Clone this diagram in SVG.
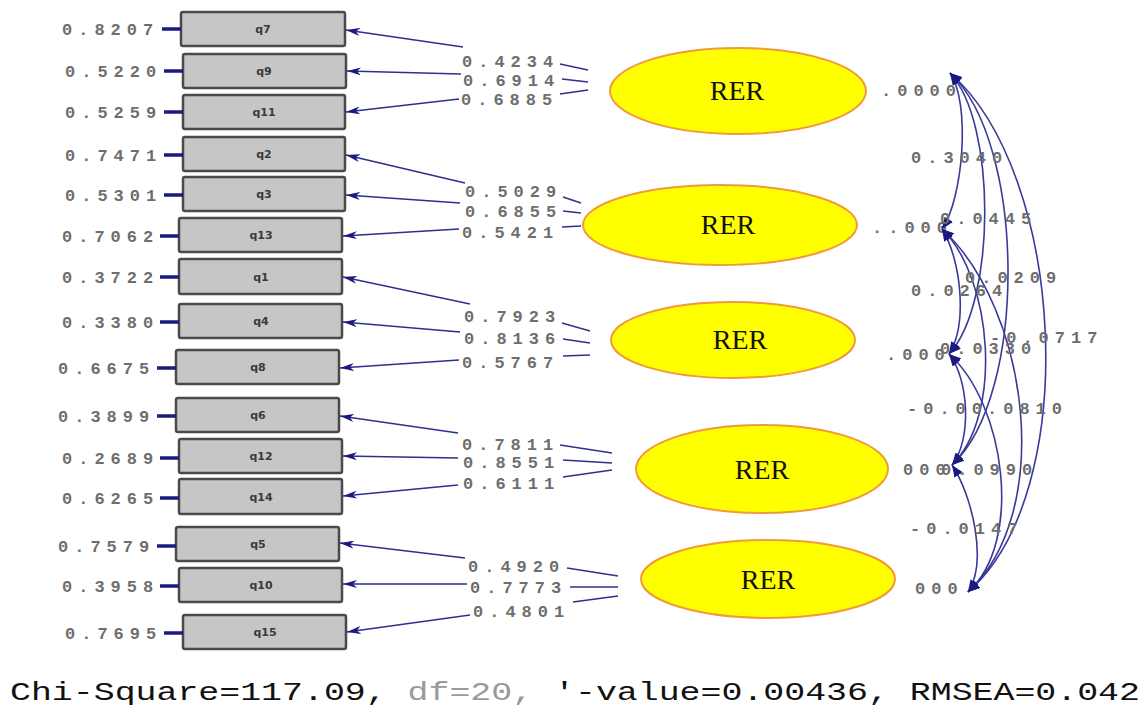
<svg xmlns="http://www.w3.org/2000/svg" width="1145" height="710" viewBox="0 0 1145 710">
  <style>
    .box { fill: #c6c6c6; stroke: #4a4a4a; stroke-width: 2.5; }
    .bl { font-family: "DejaVu Sans", sans-serif; font-size: 11px; font-weight: bold; fill: #3a3a3a; text-anchor: middle; }
    .num { font-family: "Liberation Mono", monospace; font-size: 17px; font-weight: bold; fill: #6e6e6e; letter-spacing: 6px; }
    .lat { fill: #ffff00; stroke: #f09a3a; stroke-width: 2; }
    .latl { font-family: "Liberation Serif", serif; font-size: 28px; fill: #111; text-anchor: middle; }
    .ln { fill: none; stroke: #2f2f8f; stroke-width: 1.5; }
    .err { stroke: #1a1a80; stroke-width: 3.5; }
    .cov { fill: none; stroke: #3a3a9a; stroke-width: 1.6; }
  </style>
  <defs>
    <marker id="ah" viewBox="0 0 14 8" refX="14" refY="4" markerWidth="14" markerHeight="8" markerUnits="userSpaceOnUse" orient="auto">
      <path d="M0,0 L14,4 L0,8 L4,4 z" fill="#1a1a80"/>
    </marker>
    <marker id="ch" viewBox="0 0 12 10" refX="12" refY="5" markerWidth="12" markerHeight="10" markerUnits="userSpaceOnUse" orient="auto-start-reverse">
      <path d="M0,0 L12,5 L0,10 z" fill="#1a1a80"/>
    </marker>
  </defs>
  <rect width="1145" height="710" fill="#ffffff"/>

  <!-- observed indicators with their error variances -->
  <g id="q7"><rect class="box" x="181" y="12" width="164" height="34" rx="2"/><text class="bl" x="263" y="33">q7</text><text class="num" x="62" y="35">0.8207</text><line class="err" x1="162" y1="29" x2="181" y2="29"/></g>
  <g id="q9"><rect class="box" x="183" y="54" width="163" height="34" rx="2"/><text class="bl" x="264" y="75">q9</text><text class="num" x="65" y="77">0.5220</text><line class="err" x1="164" y1="71" x2="183" y2="71"/></g>
  <g id="q11"><rect class="box" x="183" y="95" width="162" height="34" rx="2"/><text class="bl" x="264" y="116">q11</text><text class="num" x="65" y="118">0.5259</text><line class="err" x1="164" y1="112" x2="183" y2="112"/></g>
  <g id="q2"><rect class="box" x="183" y="137" width="162" height="34" rx="2"/><text class="bl" x="264" y="158">q2</text><text class="num" x="65" y="161">0.7471</text><line class="err" x1="164" y1="155" x2="183" y2="155"/></g>
  <g id="q3"><rect class="box" x="183" y="177" width="162" height="34" rx="2"/><text class="bl" x="264" y="198">q3</text><text class="num" x="65" y="201">0.5301</text><line class="err" x1="164" y1="195" x2="183" y2="195"/></g>
  <g id="q13"><rect class="box" x="179" y="218" width="163" height="34" rx="2"/><text class="bl" x="261" y="239">q13</text><text class="num" x="62" y="242">0.7062</text><line class="err" x1="160" y1="236" x2="179" y2="236"/></g>
  <g id="q1"><rect class="box" x="179" y="259" width="163" height="35" rx="2"/><text class="bl" x="261" y="281">q1</text><text class="num" x="62" y="283">0.3722</text><line class="err" x1="160" y1="277" x2="179" y2="277"/></g>
  <g id="q4"><rect class="box" x="179" y="304" width="163" height="34" rx="2"/><text class="bl" x="261" y="325">q4</text><text class="num" x="62" y="328">0.3380</text><line class="err" x1="160" y1="322" x2="179" y2="322"/></g>
  <g id="q8"><rect class="box" x="176" y="350" width="163" height="34" rx="2"/><text class="bl" x="258" y="371">q8</text><text class="num" x="58" y="374">0.6675</text><line class="err" x1="157" y1="368" x2="176" y2="368"/></g>
  <g id="q6"><rect class="box" x="176" y="398" width="163" height="34" rx="2"/><text class="bl" x="258" y="419">q6</text><text class="num" x="58" y="422">0.3899</text><line class="err" x1="157" y1="416" x2="176" y2="416"/></g>
  <g id="q12"><rect class="box" x="179" y="439" width="163" height="34" rx="2"/><text class="bl" x="261" y="460">q12</text><text class="num" x="62" y="464">0.2689</text><line class="err" x1="160" y1="458" x2="179" y2="458"/></g>
  <g id="q14"><rect class="box" x="179" y="479" width="163" height="35" rx="2"/><text class="bl" x="261" y="501">q14</text><text class="num" x="62" y="504">0.6265</text><line class="err" x1="160" y1="498" x2="179" y2="498"/></g>
  <g id="q5"><rect class="box" x="176" y="527" width="163" height="34" rx="2"/><text class="bl" x="258" y="548">q5</text><text class="num" x="58" y="552">0.7579</text><line class="err" x1="157" y1="546" x2="176" y2="546"/></g>
  <g id="q10"><rect class="box" x="179" y="568" width="163" height="34" rx="2"/><text class="bl" x="261" y="589">q10</text><text class="num" x="62" y="592">0.3958</text><line class="err" x1="160" y1="586" x2="179" y2="586"/></g>
  <g id="q15"><rect class="box" x="183" y="615" width="163" height="34" rx="2"/><text class="bl" x="265" y="636">q15</text><text class="num" x="65" y="639">0.7695</text><line class="err" x1="164" y1="633" x2="183" y2="633"/></g>

  <!-- latent factors -->
  <g id="rer1"><ellipse class="lat" cx="738" cy="91" rx="128" ry="43"/><text class="latl" x="737" y="100">RER</text></g>
  <g id="rer2"><ellipse class="lat" cx="720" cy="225" rx="137" ry="40"/><text class="latl" x="728" y="234">RER</text></g>
  <g id="rer3"><ellipse class="lat" cx="733" cy="340" rx="122" ry="38"/><text class="latl" x="740" y="349">RER</text></g>
  <g id="rer4"><ellipse class="lat" cx="762" cy="469" rx="126" ry="44"/><text class="latl" x="762" y="479">RER</text></g>
  <g id="rer5"><ellipse class="lat" cx="768" cy="579" rx="127" ry="39"/><text class="latl" x="768" y="589">RER</text></g>

  <!-- factor loadings -->
  <g id="loadings">
    <line class="ln" x1="560" y1="64" x2="588" y2="70"/>
    <line class="ln" x1="562" y1="79" x2="588" y2="82"/>
    <line class="ln" x1="560" y1="94" x2="588" y2="90"/>
    <line class="ln" x1="463" y1="47" x2="346" y2="30" marker-end="url(#ah)"/>
    <line class="ln" x1="461" y1="74" x2="347" y2="71" marker-end="url(#ah)"/>
    <line class="ln" x1="459" y1="99" x2="346" y2="112" marker-end="url(#ah)"/>
    <text class="num" x="462" y="67">0.4234</text>
    <text class="num" x="463" y="86">0.6914</text>
    <text class="num" x="461" y="105">0.6885</text>

    <line class="ln" x1="563" y1="197" x2="581" y2="203"/>
    <line class="ln" x1="563" y1="211" x2="581" y2="213"/>
    <line class="ln" x1="562" y1="227" x2="581" y2="226"/>
    <line class="ln" x1="465" y1="183" x2="346" y2="155" marker-end="url(#ah)"/>
    <line class="ln" x1="460" y1="203" x2="346" y2="195" marker-end="url(#ah)"/>
    <line class="ln" x1="459" y1="229" x2="343" y2="236" marker-end="url(#ah)"/>
    <text class="num" x="465" y="197">0.5029</text>
    <text class="num" x="465" y="217">0.6855</text>
    <text class="num" x="462" y="238">0.5421</text>

    <line class="ln" x1="562" y1="323" x2="590" y2="331"/>
    <line class="ln" x1="563" y1="339" x2="590" y2="343"/>
    <line class="ln" x1="563" y1="356" x2="590" y2="355"/>
    <line class="ln" x1="470" y1="304" x2="343" y2="277" marker-end="url(#ah)"/>
    <line class="ln" x1="460" y1="332" x2="343" y2="322" marker-end="url(#ah)"/>
    <line class="ln" x1="459" y1="360" x2="340" y2="368" marker-end="url(#ah)"/>
    <text class="num" x="464" y="322">0.7923</text>
    <text class="num" x="464" y="344">0.8136</text>
    <text class="num" x="462" y="368">0.5767</text>

    <line class="ln" x1="560" y1="445" x2="612" y2="453"/>
    <line class="ln" x1="563" y1="460" x2="612" y2="463"/>
    <line class="ln" x1="563" y1="477" x2="612" y2="470"/>
    <line class="ln" x1="458" y1="433" x2="340" y2="416" marker-end="url(#ah)"/>
    <line class="ln" x1="458" y1="458" x2="343" y2="456" marker-end="url(#ah)"/>
    <line class="ln" x1="458" y1="485" x2="343" y2="496" marker-end="url(#ah)"/>
    <text class="num" x="462" y="450">0.7811</text>
    <text class="num" x="463" y="468">0.8551</text>
    <text class="num" x="463" y="489">0.6111</text>

    <line class="ln" x1="567" y1="568" x2="618" y2="576"/>
    <line class="ln" x1="570" y1="587" x2="618" y2="587"/>
    <line class="ln" x1="573" y1="602" x2="618" y2="596"/>
    <line class="ln" x1="465" y1="558" x2="340" y2="543" marker-end="url(#ah)"/>
    <line class="ln" x1="467" y1="584" x2="343" y2="584" marker-end="url(#ah)"/>
    <line class="ln" x1="470" y1="615" x2="347" y2="632" marker-end="url(#ah)"/>
    <text class="num" x="468" y="572">0.4920</text>
    <text class="num" x="470" y="593">0.7773</text>
    <text class="num" x="473" y="617">0.4801</text>
  </g>

  <!-- factor variances -->
  <g id="variances">
    <text class="num" x="881" y="96">.0000</text>
    <text class="num" x="872" y="233">..000</text>
    <text class="num" x="886" y="360">.000</text>
    <text class="num" x="903" y="475">000</text>
    <text class="num" x="915" y="594">000</text>
  </g>

  <!-- factor covariances -->
  <g id="covariances">
    <path class="cov" d="M950,73 C971,103 963,199 942,229" marker-start="url(#ch)" marker-end="url(#ch)"/>
    <path class="cov" d="M950,73 C997,123 996,304 949,354" marker-start="url(#ch)" marker-end="url(#ch)"/>
    <path class="cov" d="M950,73 C1026,143 1028,395 952,465" marker-start="url(#ch)" marker-end="url(#ch)"/>
    <path class="cov" d="M950,73 C1065,173 1083,492 968,592" marker-start="url(#ch)" marker-end="url(#ch)"/>
    <path class="cov" d="M942,229 C961,259 968,324 949,354" marker-start="url(#ch)" marker-end="url(#ch)"/>
    <path class="cov" d="M942,229 C993,279 1003,415 952,465" marker-start="url(#ch)" marker-end="url(#ch)"/>
    <path class="cov" d="M942,229 C1029,309 1055,512 968,592" marker-start="url(#ch)" marker-end="url(#ch)"/>
    <path class="cov" d="M949,354 C969,379 972,440 952,465" marker-start="url(#ch)" marker-end="url(#ch)"/>
    <path class="cov" d="M949,354 C1005,404 1024,542 968,592" marker-start="url(#ch)" marker-end="url(#ch)"/>
    <path class="cov" d="M952,465 C972,495 988,562 968,592" marker-start="url(#ch)" marker-end="url(#ch)"/>
    <text class="num" x="911" y="163">0.3040</text>
    <text class="num" x="940" y="224">0.0445</text>
    <text class="num" x="965" y="283">0.0209</text>
    <text class="num" x="911" y="296">0.0264</text>
    <text class="num" x="990" y="343">-0.0717</text>
    <text class="num" x="940" y="354">0.0330</text>
    <text class="num" x="907" y="414">-0.00</text>
    <text class="num" x="987" y="414">.0810</text>
    <text class="num" x="941" y="475">0.0990</text>
    <text class="num" x="910" y="534">-0.0147</text>
  </g>

  <!-- fit statistics -->
  <text x="10" y="700" font-family="Liberation Mono, monospace" font-size="26" fill="#111" textLength="1130" lengthAdjust="spacingAndGlyphs">Chi-Square=117.09, <tspan fill="#9a9a9a">df=20,</tspan> '-value=0.00436, RMSEA=0.042</text>
</svg>
